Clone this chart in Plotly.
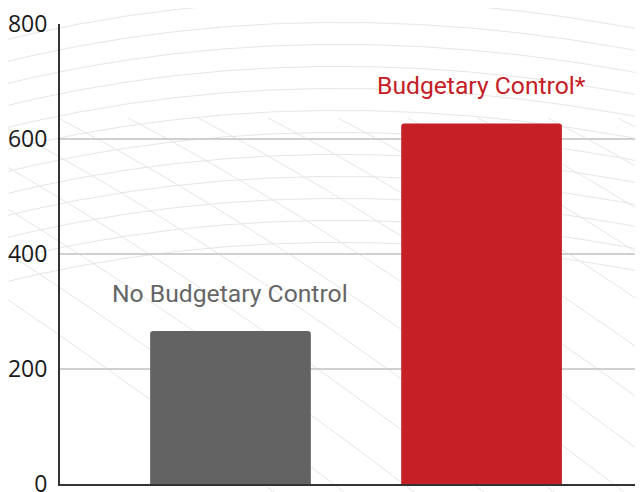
import plotly.graph_objects as go

categories = ["No Budgetary Control", "Budgetary Control*"]
values = [266, 627]
bar_colors = ["#636363", "#c52026"]
label_colors = ["#666666", "#c52026"]
y_ticks = [0, 200, 400, 600, 800]

# page body has an 8px margin, so the figure is offset by (8, 8) in the window
OFF = 8
W, H = 643 - OFF, 492 - OFF
L, R, T, B = 60 - OFF, 0, 24 - OFF, 8
pw, ph = W - L - R, H - T - B

def px(x, y):
    return (x - L) / pw, (H - B - y) / ph

def path_from(points):
    (x0, y0), (cx, cy), (x1, y1) = [px(*p) for p in points]
    return f"M {x0},{y0} Q {cx},{cy} {x1},{y1}"

shapes = []
for i in range(12):
    y0 = 10 + i * 22
    shapes.append(dict(type="path", xref="paper", yref="paper", layer="below",
                       path=path_from([(-70, y0 + 40), (300, y0 - 70), (720, y0 + 30)]),
                       line=dict(color="#e6e6e6", width=1)))
for i in range(14):
    x0 = -300 + i * 70
    shapes.append(dict(type="path", xref="paper", yref="paper", layer="below",
                       path=path_from([(x0, 110), (x0 + 250, 240), (x0 + 600, 510)]),
                       line=dict(color="#e6e6e6", width=1)))

fig = go.Figure(go.Bar(
    x=[0, 1], y=values, width=0.64,
    marker=dict(color=bar_colors, line=dict(width=0), cornerradius=3),
    hoverinfo="skip",
))

annotations = []
for i, (c, v) in enumerate(zip(categories, values)):
    annotations.append(dict(x=i, y=v, xref="x", yref="y", text=c, showarrow=False,
                            yanchor="bottom", yshift=21,
                            font=dict(family="Roboto", size=24.7, color=label_colors[i])))

fig.update_layout(
    width=W, height=H,
    margin=dict(l=L, r=R, t=T, b=B, pad=0, autoexpand=False),
    paper_bgcolor="white", plot_bgcolor="rgba(0,0,0,0)",
    showlegend=False,
    shapes=shapes,
    annotations=annotations,
    xaxis=dict(range=[-0.679, 1.643], showticklabels=False, showgrid=False,
               zeroline=False, showline=True, linecolor="#333333", linewidth=2,
               fixedrange=True),
    yaxis=dict(range=[0, 800], tickvals=y_ticks, showgrid=True, gridcolor="#d0d0d0",
               gridwidth=2, zeroline=False, showline=True, linecolor="#333333",
               linewidth=2, ticks="", ticklabelstandoff=6, automargin=False,
               ticklabeloverflow="allow",
               tickfont=dict(family="Open Sans", size=23, color="#1a1a1a"),
               fixedrange=True),
)

fig.write_html("out.html")
